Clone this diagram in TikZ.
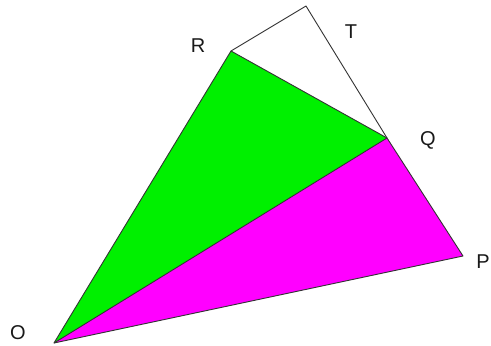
\documentclass[tikz,border=0pt]{standalone}
\usepackage{fontspec}
\setmainfont{Liberation Sans}
\begin{document}
\begin{tikzpicture}[x=1pt,y=-1pt,
  edge/.style={draw=black!80,line width=0.9pt,line join=round},
  lbl/.style={font=\fontsize{20}{22}\selectfont,text=black!90,inner sep=0pt}]
\definecolor{greenfill}{RGB}{0,240,0}
\definecolor{magentafill}{RGB}{255,0,255}
\useasboundingbox (0,0) rectangle (491,346);
\fill[white] (0,0) rectangle (491,346);
\coordinate (O) at (54,343);
\coordinate (P) at (463,256);
\coordinate (Q) at (387,138);
\coordinate (R) at (231,51);
\coordinate (T) at (306,6);
\fill[greenfill] (O) -- (Q) -- (R) -- cycle;
\fill[magentafill] (O) -- (P) -- (Q) -- cycle;
\draw[edge] (O) -- (P) -- (Q) -- (T) -- (R) -- cycle;
\draw[edge] (O) -- (Q) -- (R);
\node[lbl] (lO) at (18,333) {O};
\node[lbl,anchor=east] (lP) at (490,262) {P};
\node[lbl] (lQ) at (428,140) {Q};
\node[lbl] (lR) at (198,46) {R};
\node[lbl] (lT) at (351,32) {T};
\end{tikzpicture}
\end{document}
